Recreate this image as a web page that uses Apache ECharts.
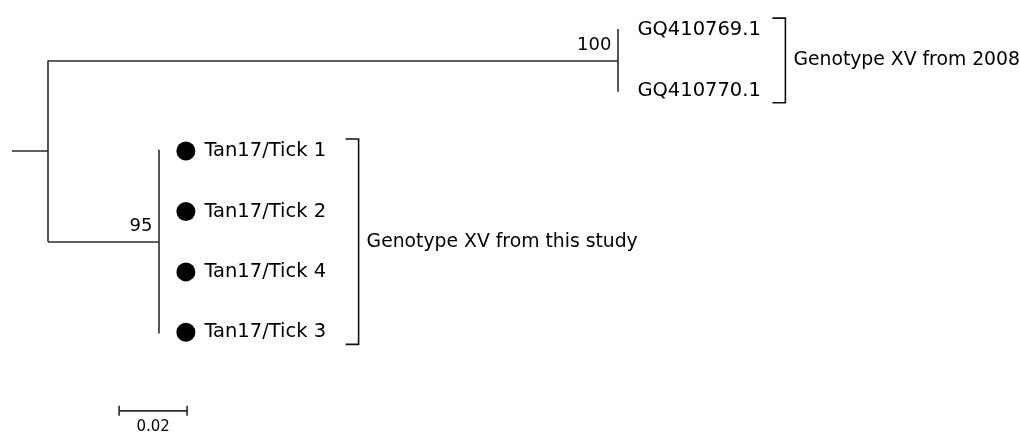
<!DOCTYPE html>
<html>
<head>
<meta charset="utf-8">
<script src="https://cdn.jsdelivr.net/npm/echarts@6/dist/echarts.min.js"></script>
<style>
  html, body { margin: 0; padding: 0; background: #fff; }
  #tree { width: 1020px; height: 435px; }
</style>
</head>
<body>
<div id="tree"></div>
<script>
// tree data (branch lengths in substitutions/site)
var rootStem = 0.0106
var cladeNames = ['Genotype XV from 2008', 'Genotype XV from this study']
var cladeBranchLengths = [0.1676, 0.0326]
var cladeSupport = [100, 95]
var cladeLeaves = [
  ['GQ410769.1', 'GQ410770.1'],
  ['Tan17/Tick 1', 'Tan17/Tick 2', 'Tan17/Tick 4', 'Tan17/Tick 3']
]
var cladeMarked = [false, true] // filled dot = this study
var scaleBarLength = 0.02

var FONT = 'DejaVu Sans'
var LINE = '#2b2b2b'
var LABEL_SIZE = 19.5

// layout: leaves get consecutive row numbers, nodes sit at mean of their children
var leafRows = []
var cladeY = []
var row = 0
cladeLeaves.forEach(function (leaves) {
  var rows = leaves.map(function () { return row++ })
  leafRows.push(rows)
  cladeY.push((rows[0] + rows[rows.length - 1]) / 2)
})
var rootY = (cladeY[0] + cladeY[cladeY.length - 1]) / 2
var cladeX = cladeBranchLengths.map(function (l) { return rootStem + l })

// branch segments
var segs = []
segs.push({ coords: [[0, rootY], [rootStem, rootY]] })
segs.push({ coords: [[rootStem, cladeY[0]], [rootStem, cladeY[cladeY.length - 1]]] })
cladeX.forEach(function (x, i) {
  segs.push({ coords: [[rootStem, cladeY[i]], [x, cladeY[i]]] })
  var r = leafRows[i]
  segs.push({ coords: [[x, r[0] - 0.02], [x, r[r.length - 1] + 0.02]] })
})

// leaves
var leafLabels = []
var leafDots = []
cladeLeaves.forEach(function (leaves, i) {
  leaves.forEach(function (name, j) {
    leafLabels.push({
      value: [cladeX[i], leafRows[i][j]],
      name: name,
      label: { distance: cladeMarked[i] ? 45 : 19 }
    })
    if (cladeMarked[i]) leafDots.push([cladeX[i], leafRows[i][j]])
  })
})

// text widths for bracket placement
var ctx = document.createElement('canvas').getContext('2d')
ctx.font = LABEL_SIZE + 'px "' + FONT + '"'
function textW(s) { return ctx.measureText(s).width }

var myChart = echarts.init(document.getElementById('tree'))
myChart.setOption({
  animation: false,
  grid: { left: 12, top: 0, right: 0, bottom: 0 },
  xAxis: { type: 'value', min: 0, max: 0.29647, show: false },
  yAxis: { type: 'value', min: -0.5, max: 6.7, inverse: true, show: false },
  series: [
    {
      type: 'lines',
      coordinateSystem: 'cartesian2d',
      silent: true,
      lineStyle: { color: LINE, width: 1.6, opacity: 1 },
      data: segs
    },
    {
      type: 'scatter',
      symbolSize: 19,
      symbolOffset: [27, 0],
      itemStyle: { color: '#000', opacity: 1 },
      data: leafDots
    },
    {
      type: 'scatter',
      symbolSize: 1,
      itemStyle: { color: 'rgba(0,0,0,0)', opacity: 1 },
      label: {
        show: true,
        position: 'right',
        formatter: '{b}',
        fontFamily: FONT,
        fontSize: LABEL_SIZE,
        color: '#000'
      },
      data: leafLabels
    },
    {
      type: 'scatter',
      symbolSize: 1,
      itemStyle: { color: 'rgba(0,0,0,0)', opacity: 1 },
      label: {
        show: true,
        position: [-6, -15],
        align: 'right',
        verticalAlign: 'middle',
        formatter: function (p) { return p.value[2] },
        fontFamily: FONT,
        fontSize: 18,
        color: '#000'
      },
      data: cladeX.map(function (x, i) { return [x, cladeY[i], cladeSupport[i]] })
    },
    {
      // clade brackets
      type: 'custom',
      silent: true,
      data: cladeNames.map(function (n, i) { return [i] }),
      renderItem: function (params, api) {
        var i = api.value(0)
        var r = leafRows[i]
        var top = api.coord([cladeX[i], r[0] - 0.2])
        var bot = api.coord([cladeX[i], r[r.length - 1] + 0.2])
        var mid = api.coord([cladeX[i], cladeY[i]])
        var maxW = Math.max.apply(null, cladeLeaves[i].map(textW))
        var bx = top[0] + (cladeMarked[i] ? 45 + 33 : 19 + 25) + maxW
        return {
          type: 'group',
          children: [
            {
              type: 'polyline',
              shape: { points: [[bx - 13, top[1]], [bx, top[1]], [bx, bot[1]], [bx - 13, bot[1]]] },
              style: { stroke: '#111', lineWidth: 1.6, fill: null }
            },
            {
              type: 'text',
              x: bx + 8,
              y: mid[1],
              style: {
                text: cladeNames[i],
                font: '18.8px "' + FONT + '"',
                fill: '#000',
                verticalAlign: 'middle'
              }
            }
          ]
        }
      }
    },
    {
      // scale bar
      type: 'custom',
      silent: true,
      data: [[0.0315, 6.3, scaleBarLength]],
      renderItem: function (params, api) {
        var x0 = api.value(0), y = api.value(1), len = api.value(2)
        var p0 = api.coord([x0, y])
        var p1 = api.coord([x0 + len, y])
        var st = { stroke: LINE, lineWidth: 1.6 }
        return {
          type: 'group',
          children: [
            { type: 'line', shape: { x1: p0[0], y1: p0[1], x2: p1[0], y2: p1[1] }, style: st },
            { type: 'line', shape: { x1: p0[0], y1: p0[1] - 5, x2: p0[0], y2: p0[1] + 5 }, style: st },
            { type: 'line', shape: { x1: p1[0], y1: p1[1] - 5, x2: p1[0], y2: p1[1] + 5 }, style: st },
            {
              type: 'text',
              x: (p0[0] + p1[0]) / 2,
              y: p0[1] + 16,
              style: {
                text: String(len),
                font: '15px "' + FONT + '"',
                fill: '#000',
                align: 'center',
                verticalAlign: 'middle'
              }
            }
          ]
        }
      }
    }
  ]
})
</script>
</body>
</html>
